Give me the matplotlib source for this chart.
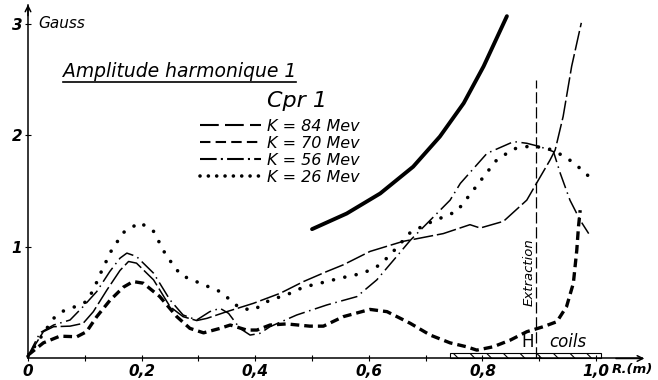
import matplotlib
matplotlib.use("Agg")
import matplotlib.pyplot as plt
from matplotlib.lines import Line2D

# Harmonic 1 amplitude (Gauss) versus radius R (m)
r_84 = [0, 0.027, 0.045, 0.074, 0.097, 0.115, 0.139, 0.162, 0.177, 0.191, 0.221, 0.25,
        0.273, 0.297, 0.315, 0.35, 0.397, 0.444, 0.485, 0.526, 0.555, 0.602, 0.66,
        0.731, 0.778, 0.796, 0.837, 0.878, 0.895, 0.919, 0.928, 0.942, 0.957, 0.974]
b_84 = [0.02, 0.24, 0.285, 0.29, 0.315, 0.42, 0.615, 0.79, 0.87, 0.855, 0.705, 0.465,
        0.375, 0.34, 0.36, 0.42, 0.495, 0.585, 0.69, 0.78, 0.84, 0.96, 1.05,
        1.12, 1.20, 1.17, 1.23, 1.42, 1.57, 1.78, 1.87, 2.17, 2.62, 3.01]

r_70 = [0, 0.027, 0.056, 0.086, 0.103, 0.121, 0.144, 0.168, 0.185, 0.203, 0.232, 0.262,
        0.285, 0.309, 0.338, 0.356, 0.385, 0.403, 0.426, 0.455, 0.496, 0.52, 0.555,
        0.602, 0.632, 0.673, 0.708, 0.743, 0.772, 0.79, 0.819, 0.849, 0.878, 0.907,
        0.931, 0.948, 0.96, 0.966, 0.969, 0.972]
b_70 = [0.03, 0.14, 0.20, 0.195, 0.24, 0.375, 0.52, 0.64, 0.69, 0.675, 0.555, 0.375,
        0.27, 0.23, 0.27, 0.30, 0.255, 0.255, 0.30, 0.31, 0.29, 0.29, 0.375,
        0.44, 0.42, 0.315, 0.21, 0.14, 0.105, 0.075, 0.105, 0.165, 0.24, 0.285,
        0.33, 0.465, 0.675, 0.97, 1.18, 1.33]

r_56 = [0, 0.021, 0.045, 0.074, 0.097, 0.121, 0.144, 0.162, 0.174, 0.191, 0.221, 0.25,
        0.273, 0.297, 0.32, 0.338, 0.353, 0.373, 0.391, 0.408, 0.426, 0.473, 0.526,
        0.579, 0.614, 0.649, 0.673, 0.708, 0.743, 0.761, 0.808, 0.855, 0.878, 0.901,
        0.925, 0.937, 0.954, 0.972, 0.987]
b_56 = [0.02, 0.23, 0.30, 0.345, 0.465, 0.60, 0.78, 0.90, 0.945, 0.915, 0.765, 0.525,
        0.39, 0.345, 0.42, 0.45, 0.405, 0.27, 0.21, 0.225, 0.285, 0.39, 0.48,
        0.555, 0.705, 0.915, 1.06, 1.24, 1.42, 1.57, 1.84, 1.945, 1.93, 1.90,
        1.855, 1.66, 1.42, 1.24, 1.12]

r_26 = [0, 0.045, 0.062, 0.083, 0.103, 0.115, 0.13, 0.147, 0.168, 0.197, 0.221, 0.244,
        0.259, 0.268, 0.303, 0.338, 0.356, 0.373, 0.397, 0.426, 0.455, 0.485, 0.526,
        0.549, 0.59, 0.62, 0.643, 0.673, 0.708, 0.755, 0.778, 0.802, 0.825, 0.855,
        0.878, 0.91, 0.928, 0.945, 0.963, 0.975, 0.988]
b_26 = [0.02, 0.36, 0.425, 0.465, 0.51, 0.615, 0.79, 0.97, 1.13, 1.22, 1.14, 0.915,
        0.82, 0.75, 0.675, 0.60, 0.525, 0.45, 0.435, 0.525, 0.57, 0.64, 0.69,
        0.72, 0.765, 0.84, 0.96, 1.13, 1.22, 1.32, 1.47, 1.63, 1.78, 1.88,
        1.90, 1.895, 1.855, 1.81, 1.745, 1.69, 1.63]

# heavy unlabelled curve
r_heavy = [0.5, 0.561, 0.62, 0.678, 0.725, 0.767, 0.802, 0.843]
b_heavy = [1.16, 1.30, 1.48, 1.72, 1.99, 2.29, 2.62, 3.07]

extraction_r = 0.894
extraction_top = 2.5
coils_r = [0.742, 1.008]
coils_h = 0.05

x_ticks = [0, 0.2, 0.4, 0.6, 0.8, 1.0]
x_labels = ["0", "0,2", "0,4", "0,6", "0,8", "1,0"]
y_ticks = [1, 2, 3]
y_labels = ["1", "2", "3"]
legend_labels = ["K = 84 Mev", "K = 70 Mev", "K = 56 Mev", "K = 26 Mev"]

ink = "black"
hand = dict(family="DejaVu Sans", style="oblique", color=ink)

fig = plt.figure(figsize=(6.58, 3.80), dpi=100)
ax = fig.add_axes([0, 0, 1, 1])
ax.set_xlim(-0.0493, 1.109)
ax.set_ylim(-0.193, 3.215)

# axes drawn through the origin, like the hand drawing
for s in ["top", "right"]:
    ax.spines[s].set_visible(False)
ax.spines["left"].set_position(("data", 0))
ax.spines["bottom"].set_position(("data", 0))
ax.spines["left"].set_bounds(0, 3.17)
ax.spines["bottom"].set_bounds(0, 1.08)
ax.spines["left"].set_linewidth(1.1)
ax.spines["bottom"].set_linewidth(1.1)
ax.annotate("", xy=(0, 3.2), xytext=(0, 3.05),
            arrowprops=dict(arrowstyle="->", lw=1.1, color=ink))
ax.annotate("", xy=(1.09, 0), xytext=(1.03, 0),
            arrowprops=dict(arrowstyle="->", lw=1.1, color=ink))

ax.set_xticks(x_ticks)
ax.set_xticklabels(x_labels, fontsize=11, fontweight="bold", **hand)
ax.set_xticks([0.1, 0.3, 0.5, 0.7, 0.9], minor=True)
ax.set_yticks(y_ticks)
ax.set_yticklabels(y_labels, fontsize=11, fontweight="bold", **hand)
ax.tick_params(axis="both", which="both", direction="inout", length=4, width=0.8)
ax.tick_params(axis="x", pad=2)
ax.tick_params(axis="y", pad=2)

# curves
ax.plot(r_84, b_84, color=ink, lw=1.1, linestyle=(0, (13, 2.5)))
ax.plot(r_70, b_70, color=ink, lw=2.4, linestyle=(0, (2.6, 1.5)))
ax.plot(r_56, b_56, color=ink, lw=1.1, linestyle=(0, (11, 3, 1, 3)))
ax.plot(r_26, b_26, color=ink, lw=2.6, linestyle=(0, (0.01, 3.2)),
        dash_capstyle="round")
ax.plot(r_heavy, b_heavy, color=ink, lw=2.8, solid_capstyle="round")

# extraction radius and H coils
ax.plot([extraction_r, extraction_r], [0, extraction_top], color=ink, lw=0.9,
        linestyle=(0, (9, 3)))
ax.text(extraction_r - 0.012, 0.776, "Extraction", rotation=90, ha="center",
        va="center", fontsize=9.5, **hand)
plt.rcParams["hatch.linewidth"] = 0.8
ax.bar(coils_r[0], coils_h, width=coils_r[1] - coils_r[0], align="edge",
       fill=False, hatch="\\\\", edgecolor=ink, lw=0.8)
ax.text(0.88, 0.07, "H", ha="center", va="bottom", fontsize=12,
        family="DejaVu Sans", color=ink)
ax.text(0.951, 0.07, "coils", ha="center", va="bottom", fontsize=12, **hand)

# texts
ax.text(0.018, 3.0, "Gauss", ha="left", va="center", fontsize=11, **hand)
ax.text(1.028, -0.103, "R.(m)", ha="left", va="center", fontsize=9.5,
        fontweight="bold", **hand)
title = ax.text(0.062, 2.525, "Amplitude harmonique 1", ha="left", va="baseline",
                fontsize=13.5, **hand)
ax.text(0.421, 2.255, "Cpr 1", ha="left", va="baseline", fontsize=16, **hand)

handles = [
    Line2D([], [], color=ink, lw=1.5, linestyle=(0, (9, 3))),
    Line2D([], [], color=ink, lw=1.5, linestyle=(0, (5, 2.5))),
    Line2D([], [], color=ink, lw=1.5, linestyle=(0, (8, 2, 1, 2))),
    Line2D([], [], color=ink, lw=2.6, linestyle=(0, (0.01, 2.3)), dash_capstyle="round"),
]
leg = ax.legend(handles, legend_labels, loc="upper left",
                bbox_to_anchor=(200 / 658, 1 - 119 / 380), frameon=False,
                handlelength=3.8, handletextpad=0.4, labelspacing=0.12,
                borderpad=0, borderaxespad=0,
                prop=dict(family="DejaVu Sans", style="oblique", size=11.5))

# underline the title
fig.canvas.draw()
bb = title.get_window_extent()
fig.add_artist(Line2D([bb.x0 / fig.bbox.width, bb.x1 / fig.bbox.width],
                      [(bb.y0 - 1) / fig.bbox.height] * 2, color=ink, lw=1.2))

fig.savefig("out.png", dpi=100)
